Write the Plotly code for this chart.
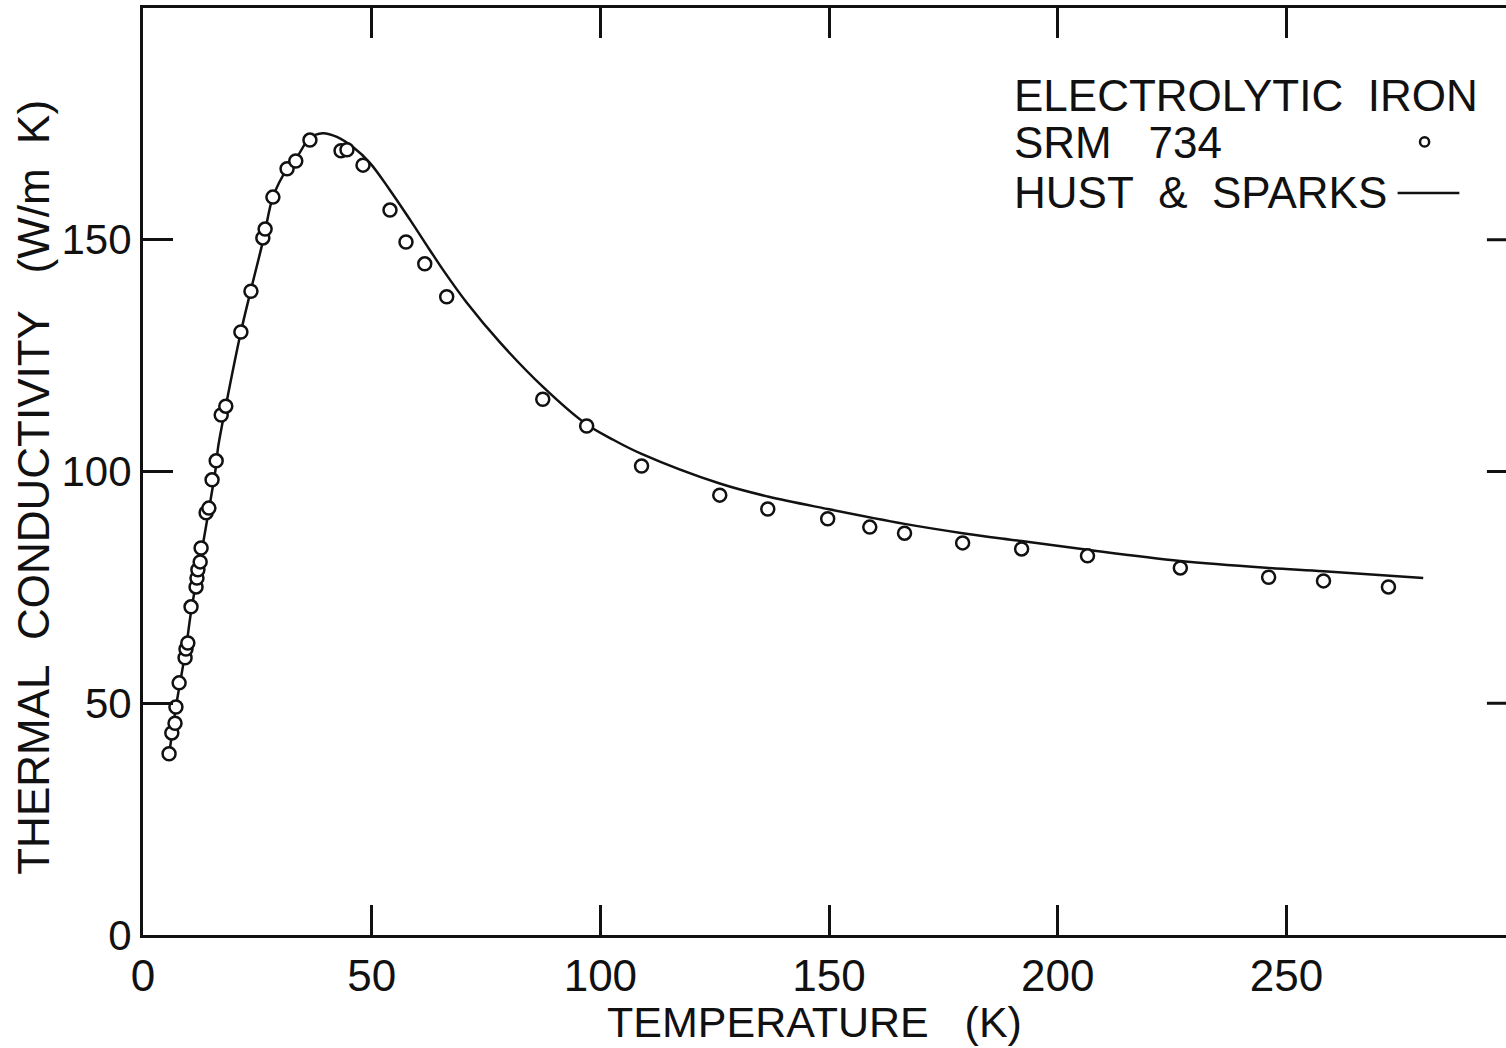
import plotly.graph_objects as go

# SRM 734 measured points (temperature K, conductivity W/m K)
srm_T = [5.7, 6.3, 7.0, 7.2, 7.9, 9.2, 9.4, 9.8, 10.5, 11.6, 11.8, 12.0, 12.5, 12.7,
         13.8, 14.4, 15.1, 16.0, 17.1, 18.1, 21.4, 23.6, 26.2, 26.7, 28.4, 31.5,
         33.4, 36.5, 43.3, 44.6, 48.1, 54.0, 57.5, 61.6, 66.4, 87.4, 97.0, 109.0,
         126.1, 136.6, 149.7, 158.9, 166.5, 179.2, 192.1, 206.5, 226.8, 246.1,
         258.1, 272.3]
srm_k = [39.1, 43.6, 45.7, 49.2, 54.4, 59.8, 61.7, 63.0, 70.8, 75.1, 77.0, 78.8, 80.5, 83.5,
         91.1, 92.1, 98.2, 102.3, 112.2, 114.1, 130.1, 138.9, 150.4, 152.3, 159.2, 165.3,
         167.0, 171.5, 169.2, 169.4, 166.1, 156.4, 149.5, 144.8, 137.7, 115.6, 109.8, 101.2,
         94.9, 91.9, 89.8, 88.0, 86.7, 84.6, 83.3, 81.8, 79.2, 77.2,
         76.4, 75.1]

# Hust & Sparks curve
hs_T = [5.7, 6.3, 7.2, 8.1, 9.4, 10.5, 12.5, 14.4, 16.0, 16.4, 18.1, 21.4, 23.6, 26.4,
        28.4, 31.5, 33.7, 36.5, 39.3, 42.4, 45.9, 49.6, 54.0, 58.4, 62.7, 65.6, 70.8,
        78.0, 87.4, 96.8, 102.9, 109.0, 126.1, 136.6, 149.7, 166.5, 179.2, 192.1, 206.5,
        226.8, 246.1, 258.1, 279.9]
hs_k = [39.0, 43.1, 49.2, 54.4, 61.9, 69.7, 80.9, 91.7, 101.4, 105.1, 114.1, 130.1, 139.2, 150.4,
        159.2, 165.3, 167.9, 172.0, 173.0, 172.2, 170.0, 166.6, 160.7, 154.3, 147.8, 143.5, 136.4,
        127.9, 118.3, 110.3, 106.8, 103.8, 97.4, 94.6, 91.9, 88.7, 86.7, 85.0, 83.1,
        80.7, 79.2, 78.5, 77.0]

x_ticks = [0, 50, 100, 150, 200, 250]
y_ticks = [0, 50, 100, 150]
legend_lines = ["ELECTROLYTIC\u00a0\u00a0IRON", "SRM\u00a0\u00a0\u00a0734", "HUST\u00a0\u00a0&\u00a0\u00a0SPARKS"]

FONT = "Liberation Sans, Arial, sans-serif"
INK = "#111111"

fig = go.Figure()
fig.add_trace(go.Scatter(x=hs_T, y=hs_k, mode="lines",
                         line=dict(color=INK, width=2.5, shape="spline", smoothing=1.0),
                         showlegend=False, hoverinfo="skip"))
fig.add_trace(go.Scatter(x=srm_T, y=srm_k, mode="markers",
                         marker=dict(symbol="circle", size=13, color="white",
                                     line=dict(color=INK, width=2.5)),
                         showlegend=False))

fig.update_xaxes(range=[0, 298], tickvals=x_ticks, ticktext=[str(v) for v in x_ticks],
                 ticks="inside", ticklen=30, tickwidth=3, tickcolor=INK,
                 showline=True, linewidth=3, linecolor=INK, mirror="ticks",
                 showgrid=False, zeroline=False,
                 tickfont=dict(family=FONT, size=44, color=INK))
fig.update_yaxes(range=[0, 200], tickvals=y_ticks, ticktext=[str(v) for v in y_ticks],
                 ticks="inside", ticklen=30, tickwidth=3, tickcolor=INK,
                 showline=True, linewidth=3, linecolor=INK, mirror=False,
                 showgrid=False, zeroline=False,
                 tickfont=dict(family=FONT, size=42, color=INK))

# right-side inward ticks (right axis lies outside the frame)
for v in [50, 100, 150]:
    fig.add_shape(type="line", xref="paper", yref="y", x0=0.986, x1=1.0, y0=v, y1=v,
                  line=dict(color=INK, width=3))

# legend block
leg_y = [181.2, 171.0, 160.3]
for txt, yy in zip(legend_lines, leg_y):
    fig.add_annotation(x=190.1, y=yy, xref="x", yref="y", text=txt, showarrow=False,
                       xanchor="left", yanchor="middle",
                       font=dict(family=FONT, size=44, color=INK))
fig.add_shape(type="circle", xref="x", yref="y", x0=279.2, x1=281.2, y0=170.1, y1=172.1,
              line=dict(color=INK, width=2.5))
fig.add_shape(type="line", xref="x", yref="y", x0=274.3, x1=287.8, y0=160.1, y1=160.1,
              line=dict(color=INK, width=2.5))

# axis titles
fig.add_annotation(x=146.9, y=-0.094, xref="x", yref="paper",
                   text="TEMPERATURE\u00a0\u00a0\u00a0(K)", showarrow=False,
                   xanchor="center", yanchor="middle",
                   font=dict(family=FONT, size=43, color=INK))
fig.add_annotation(x=-0.08, y=96.7, xref="paper", yref="y",
                   text="THERMAL\u00a0\u00a0CONDUCTIVITY\u00a0\u00a0\u00a0(W/m\u00a0\u00a0K)",
                   showarrow=False, textangle=-90, xanchor="center", yanchor="middle",
                   font=dict(family=FONT, size=44, color=INK))

fig.update_layout(width=1506, height=1048, margin=dict(l=143, r=0, t=8, b=113),
                  paper_bgcolor="white", plot_bgcolor="white")

fig.write_html("out.html")
